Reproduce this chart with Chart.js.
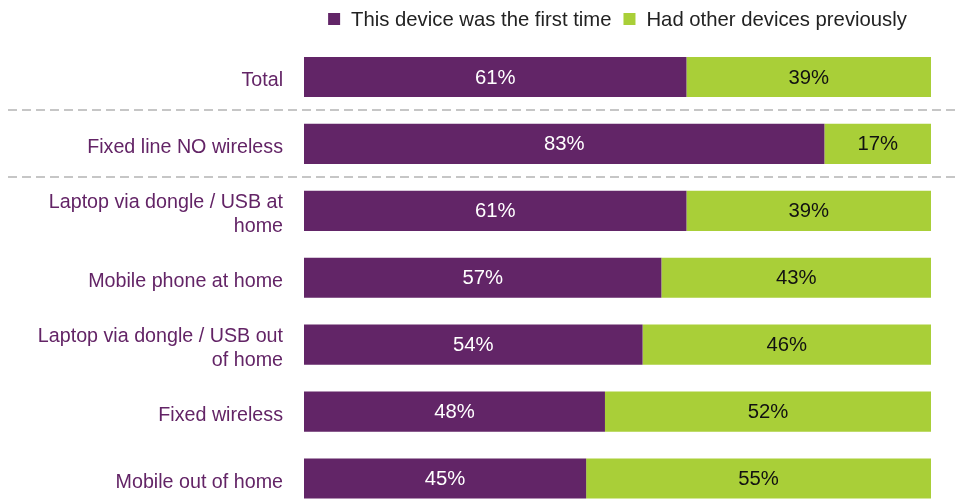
<!DOCTYPE html>
<html>
<head>
<meta charset="utf-8">
<script src="https://cdn.jsdelivr.net/npm/chart.js@4.4.1/dist/chart.umd.min.js"></script>
<style>
  html, body { margin: 0; padding: 0; background: #ffffff; overflow: hidden; }
  #wrap { width: 957px; height: 512px; }
</style>
</head>
<body>
<div id="wrap"><canvas id="c" width="957" height="512"></canvas></div>
<script>
const categories = [
  'Total',
  'Fixed line NO wireless',
  ['Laptop via dongle / USB at', 'home'],
  'Mobile phone at home',
  ['Laptop via dongle / USB out', 'of home'],
  'Fixed wireless',
  'Mobile out of home'
];
const seriesNames = ['This device was the first time', 'Had other devices previously'];
const firstTime = [61, 83, 61, 57, 54, 48, 45];
const hadOther  = [39, 17, 39, 43, 46, 52, 55];
const separatorAfter = [0, 1];

const PURPLE = '#622567';
const GREEN = '#a9cf38';
const FONT = '"Liberation Sans", Arial, sans-serif';

const separators = {
  id: 'separators',
  beforeDatasetsDraw(chart) {
    const y = chart.scales.y, ctx = chart.ctx;
    ctx.save();
    ctx.strokeStyle = '#c6c6c6';
    ctx.lineWidth = 2;
    ctx.setLineDash([9, 5]);
    separatorAfter.forEach(i => {
      const py = Math.round((y.getPixelForValue(i) + y.getPixelForValue(i + 1)) / 2);
      ctx.beginPath();
      ctx.moveTo(8, py);
      ctx.lineTo(chart.width, py);
      ctx.stroke();
    });
    ctx.restore();
  }
};

const valueLabels = {
  id: 'valueLabels',
  afterDatasetsDraw(chart) {
    const ctx = chart.ctx;
    ctx.save();
    ctx.font = '20.3px ' + FONT;
    ctx.textAlign = 'center';
    ctx.textBaseline = 'middle';
    chart.data.datasets.forEach((ds, di) => {
      const meta = chart.getDatasetMeta(di);
      ctx.fillStyle = di === 0 ? '#ffffff' : '#111111';
      meta.data.forEach((el, i) => {
        const x = (el.x + el.base) / 2;
        ctx.fillText(ds.data[i] + '%', x, el.y + 1);
      });
    });
    ctx.restore();
  }
};

const customLegend = {
  id: 'customLegend',
  afterDraw(chart) {
    const ctx = chart.ctx, area = chart.chartArea;
    ctx.save();
    ctx.font = '20.3px ' + FONT;
    ctx.textBaseline = 'middle';
    const box = 12, gapBox = 11, gapItem = 12;
    const widths = chart.data.datasets.map(ds => ctx.measureText(ds.label).width);
    let total = 0;
    widths.forEach((w, i) => { total += box + gapBox + w + (i < widths.length - 1 ? gapItem : 0); });
    let x = (area.left + area.right) / 2 - total / 2;
    const cy = 19;
    chart.data.datasets.forEach((ds, i) => {
      ctx.fillStyle = ds.backgroundColor;
      ctx.fillRect(x, cy - box / 2, box, box);
      x += box + gapBox;
      ctx.fillStyle = '#222222';
      ctx.textAlign = 'left';
      ctx.fillText(ds.label, x, cy + 1);
      x += widths[i] + gapItem;
    });
    ctx.restore();
  }
};

new Chart(document.getElementById('c'), {
  type: 'bar',
  data: {
    labels: categories,
    datasets: [
      { label: seriesNames[0], data: firstTime, backgroundColor: PURPLE, borderWidth: 0 },
      { label: seriesNames[1], data: hadOther, backgroundColor: GREEN, borderWidth: 0 }
    ]
  },
  options: {
    indexAxis: 'y',
    responsive: false,
    animation: false,
    events: [],
    barPercentage: 1,
    categoryPercentage: 0.6,
    layout: { padding: { top: 43.5, right: 26, bottom: 0, left: 0 } },
    plugins: {
      legend: { display: false },
      tooltip: { enabled: false },
      title: { display: false }
    },
    scales: {
      x: { stacked: true, min: 0, max: 100, display: false },
      y: {
        stacked: true,
        grid: { display: false, drawTicks: false },
        border: { display: false },
        ticks: {
          padding: 21,
          labelOffset: 4,
          color: '#632466',
          font: { family: FONT, size: 19.7, lineHeight: 1.22 }
        },
        afterFit(scale) {
          scale.width = 304;
          scale.paddingTop = 0;
          scale.paddingBottom = 0;
        }
      }
    }
  },
  plugins: [separators, valueLabels, customLegend]
});
</script>
</body>
</html>
